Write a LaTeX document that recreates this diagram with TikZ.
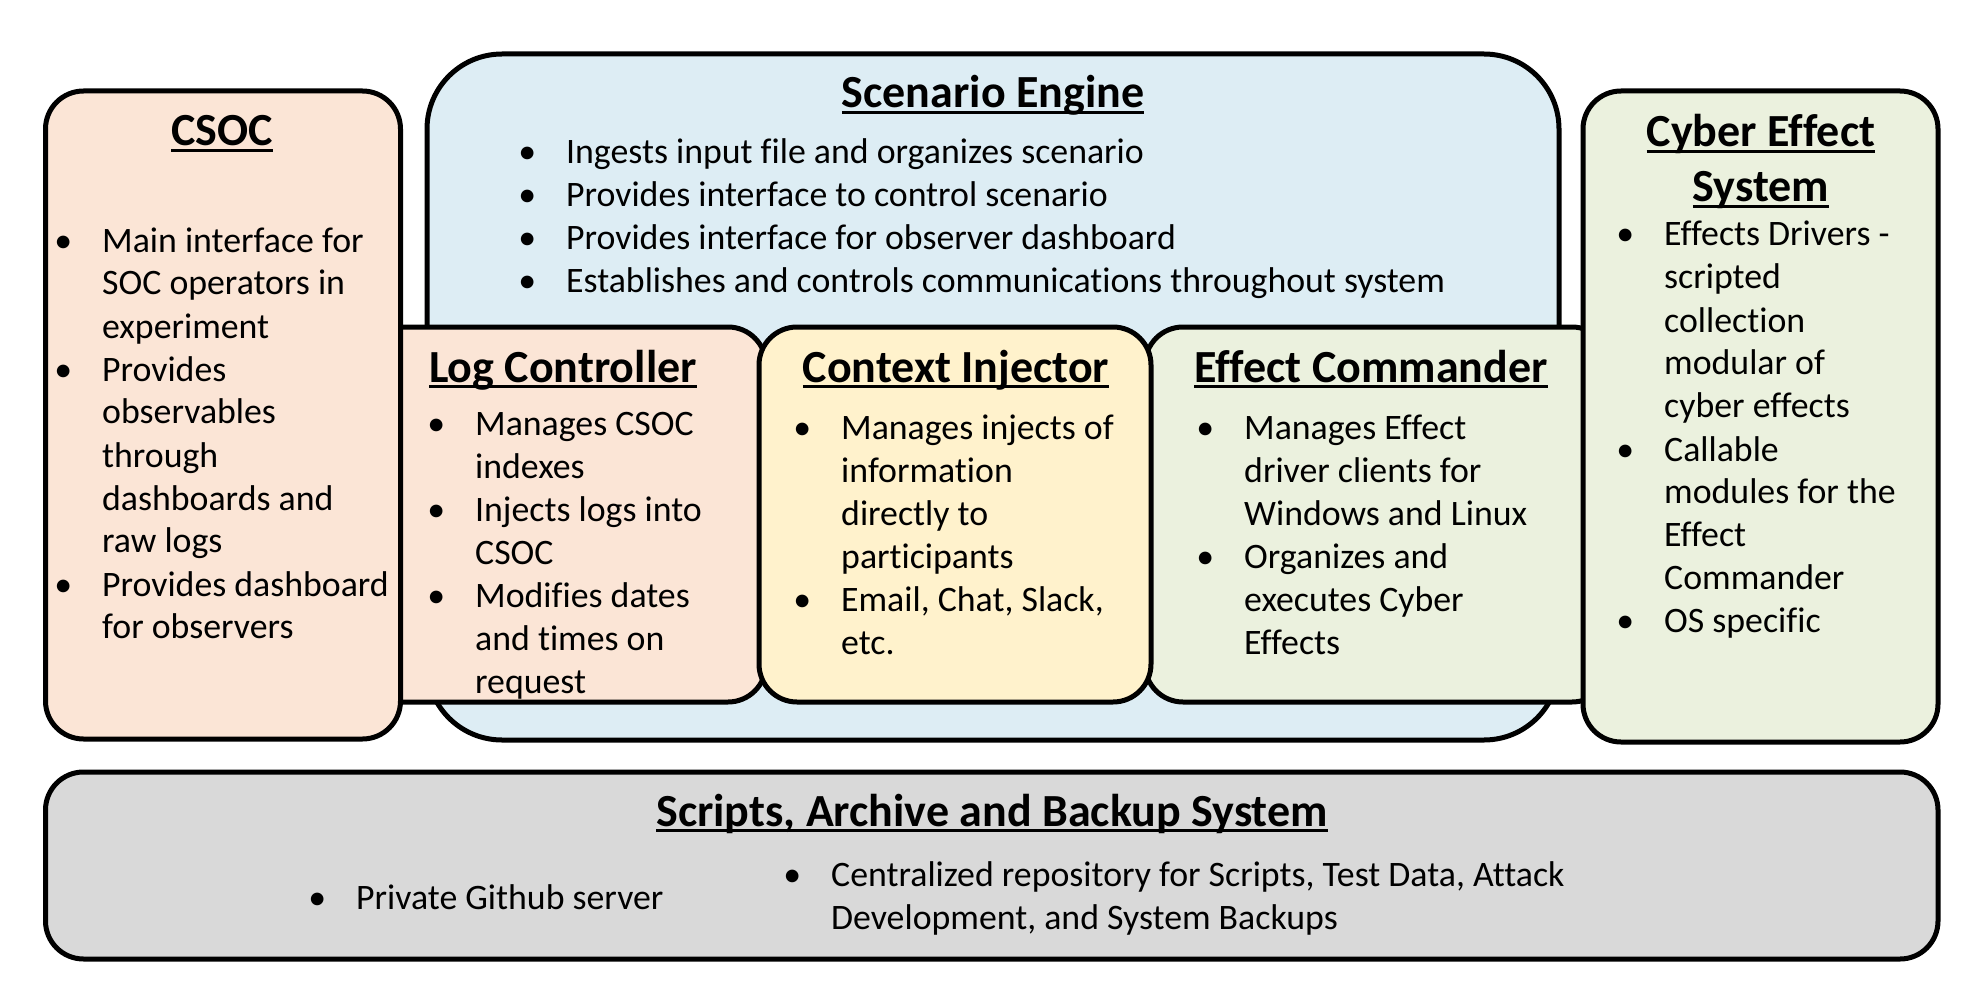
\documentclass[tikz,border=0pt]{standalone}
\usepackage{fontspec}
\setmainfont[Ligatures=NoCommon,RawFeature={-liga}]{Carlito}
\definecolor{peach}{HTML}{FBE5D6}
\definecolor{skyb}{HTML}{DDEDF4}
\definecolor{cream}{HTML}{FFF2CC}
\definecolor{sage}{HTML}{EBF1DE}
\definecolor{greybox}{HTML}{D9D9D9}
\newcommand*\bul{\llap{\textbullet\hspace{30pt}}}
\newcommand*\titleul[1]{\setbox0\hbox{#1}\rlap{\rule[-6pt]{\wd0}{3pt}}\box0}
\begin{document}
\begin{tikzpicture}[x=1pt,y=-1pt,
  box/.style={draw, line width=5pt, rounded corners=38pt, inner sep=0pt},
  ttl/.style={font=\fontsize{46}{54}\selectfont\bfseries, inner sep=0pt, anchor=base, align=center},
  body/.style={font=\fontsize{35.8}{43}\selectfont, inner sep=0pt, anchor=base west}]
\useasboundingbox (0,0) rectangle (1981,995);
% boxes
\node[box, rounded corners=75pt, fill=skyb, minimum width=1132pt, minimum height=686pt] (se) at (993,397) {};
\node[box, fill=peach, minimum width=406pt, minimum height=375pt] (lc) at (563,514.5) {};
\node[box, fill=sage, minimum width=465pt, minimum height=375pt] (ec) at (1377.5,514.5) {};
\node[box, fill=cream, minimum width=392pt, minimum height=375pt] (ci) at (955,514.5) {};
\node[box, fill=peach, minimum width=355pt, minimum height=648pt] (csoc) at (223,415) {};
\node[box, fill=sage, minimum width=355pt, minimum height=651pt] (ces) at (1760.5,416.5) {};
\node[box, fill=greybox, minimum width=1892.5pt, minimum height=187pt] (sabs) at (991.75,865.5) {};
% titles
\node[ttl] (se-t) at (993,108) {\titleul{Scenario Engine}};
\node[ttl] (csoc-t) at (222,146) {\titleul{CSOC}};
\node[ttl] (lc-t) at (563,382) {\titleul{Log Controller}};
\node[ttl] (ci-t) at (956,382) {\titleul{Context Injector}};
\node[ttl] (ec-t) at (1371,382) {\titleul{Effect Commander}};
\node[ttl] (ces-t1) at (1761,147) {\titleul{Cyber Effect}};
\node[ttl] (ces-t2) at (1761,202) {\titleul{System}};
\node[ttl] (sabs-t) at (992,826) {\titleul{Scripts, Archive and Backup System}};
% bodies
\node[body] (se-b) at (566,164) {\begin{tabular}[t]{@{}l@{}}
\bul Ingests input file and organizes scenario\\
\bul Provides interface to control scenario\\
\bul Provides interface for observer dashboard\\
\bul Establishes and controls communications throughout system
\end{tabular}};
\node[body] (csoc-b) at (102,252) {\begin{tabular}[t]{@{}l@{}}
\bul Main interface for\\ SOC operators in\\ experiment\\
\bul Provides\\ observables\\ through\\ dashboards and\\ raw logs\\
\bul Provides dashboard\\ for observers
\end{tabular}};
\node[body] (lc-b) at (475,435) {\begin{tabular}[t]{@{}l@{}}
\bul Manages CSOC\\ indexes\\
\bul Injects logs into\\ CSOC\\
\bul Modifies dates\\ and times on\\ request
\end{tabular}};
\node[body] (ci-b) at (841,439) {\begin{tabular}[t]{@{}l@{}}
\bul Manages injects of\\ information\\ directly to\\ participants\\
\bul Email, Chat, Slack,\\ etc.
\end{tabular}};
\node[body] (ec-b) at (1244,439) {\begin{tabular}[t]{@{}l@{}}
\bul Manages Effect\\ driver clients for\\ Windows and Linux\\
\bul Organizes and\\ executes Cyber\\ Effects
\end{tabular}};
\node[body] (ces-b) at (1664,246) {\begin{tabular}[t]{@{}l@{}}
\bul Effects Drivers -\\ scripted\\ collection\\ modular of\\ cyber effects\\
\bul Callable\\ modules for the\\ Effect\\ Commander\\
\bul OS specific
\end{tabular}};
\node[body] (sabs-b1) at (356,909) {\begin{tabular}[t]{@{}l@{}}
\bul Private Github server
\end{tabular}};
\node[body] (sabs-b2) at (831,886) {\begin{tabular}[t]{@{}l@{}}
\bul Centralized repository for Scripts, Test Data, Attack\\ Development, and System Backups
\end{tabular}};
\end{tikzpicture}
\end{document}
